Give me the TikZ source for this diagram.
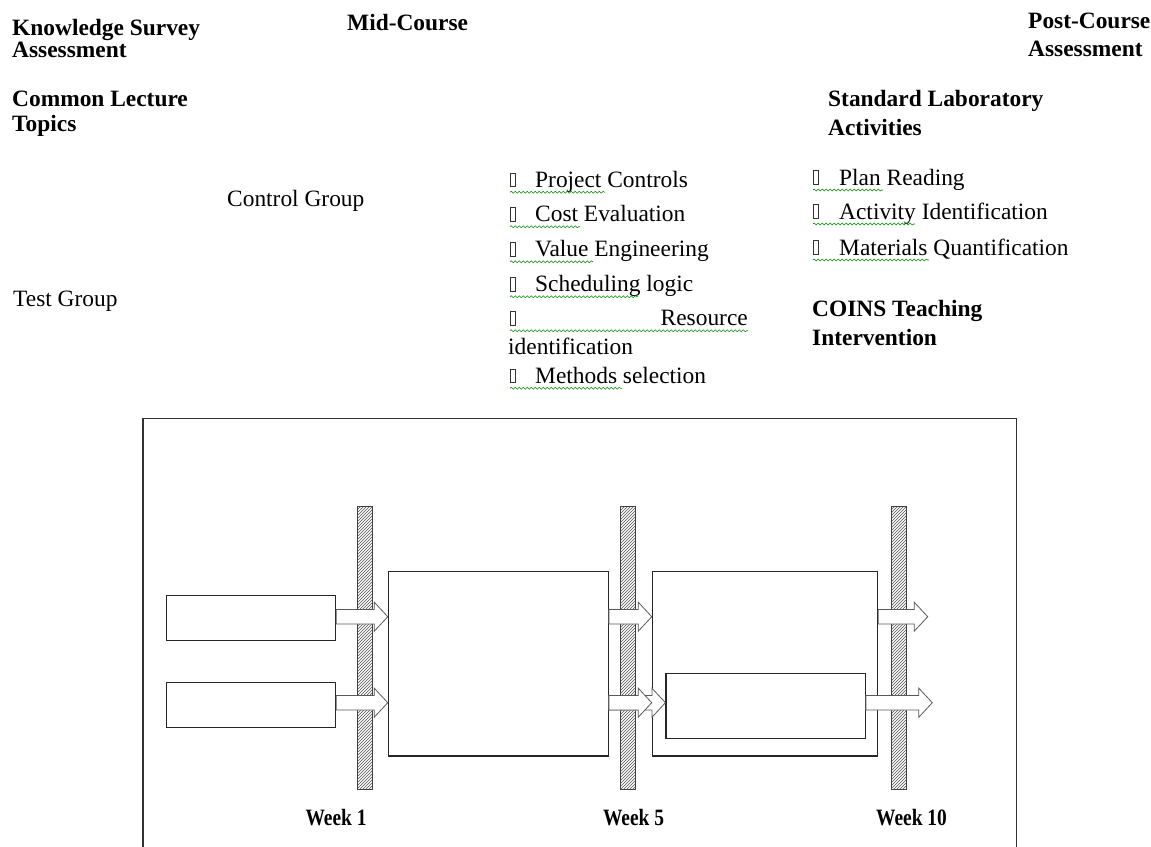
\documentclass[tikz,border=0pt]{standalone}
\usepackage{fontspec}
\usepackage{graphicx}
\setmainfont{Liberation Serif}
\usetikzlibrary{calc,patterns,decorations.pathmorphing}
\begin{document}
\begin{tikzpicture}[x=1pt,y=-1pt,
  txt/.style={anchor=base west, inner sep=0pt, font=\fontsize{23.4}{28}\selectfont},
  hd/.style={anchor=base west, inner sep=0pt, font=\fontsize{23.4}{28}\selectfont\bfseries},
  wk/.style={anchor=base, inner sep=0pt, font=\fontsize{23.4}{28}\selectfont\bfseries},
  tofu/.style={draw=black!80, line width=0.6pt, inner sep=0pt, minimum width=4.5pt, minimum height=13.5pt, anchor=south west},
  squig/.style={draw=green!55!black, line width=0.6pt, decorate, decoration={snake, segment length=4pt, amplitude=1pt}},
  box/.style={draw=black!85, line width=1.1pt, fill=white, inner sep=0pt},
  weekbar/.style={draw=black!75, line width=1pt, minimum width=15pt, minimum height=283pt, inner sep=0pt, pattern=north east lines, pattern color=black!70},
  blockarrow/.style={draw=black!65, line width=0.8pt, fill=white, to path={let \p1=(\tikztostart), \p2=(\tikztotarget) in (\x1,\y1+7.3pt) -- (\x2-13.5pt,\y1+7.3pt) -- (\x2-13.5pt,\y1+14.5pt) -- (\x2,\y1) -- (\x2-13.5pt,\y1-14.5pt) -- (\x2-13.5pt,\y1-7.3pt) -- (\x1,\y1-7.3pt) -- cycle}}
]
\useasboundingbox (0,0) rectangle (1151,846);

% ---------- headings ----------
\node[hd, text depth=1pt] (ks1) at (12,35.5) {Knowledge Survey};
\node[hd, text height=15.5pt] (ks2) at (12,57) {Assessment};
\node[hd] (mid) at (347,30) {Mid-Course};
\node[hd] (pc1) at (1028,28) {Post-Course};
\node[hd] (pc2) at (1028,56.7) {Assessment};
\node[hd] (cl1) at (12,106) {Common Lecture};
\node[hd] (cl2) at (12,131) {Topics};
\node[hd] (sl1) at (828,106) {Standard Laboratory};
\node[hd] (sl2) at (828,135) {Activities};
\node[hd] (ct1) at (812,316) {COINS Teaching};
\node[hd] (ct2) at (812,345) {Intervention};
\node[txt] (cg) at (227,206) {Control Group};
\node[txt] (tg) at (13,306) {Test Group};

% ---------- middle bullet list ----------
\node[tofu] (m1b) at (510,186.8) {};
\node[txt] (m1) at (535,187.3) {Project Controls};
\draw[squig] (510,192.3) -- (605,192.3);
\node[tofu] (m2b) at (510,221.2) {};
\node[txt] (m2) at (535,221.7) {Cost Evaluation};
\draw[squig] (510,226.7) -- (580,226.7);
\node[tofu] (m3b) at (510,256.2) {};
\node[txt] (m3) at (535,256.7) {Value Engineering};
\draw[squig] (510,261.7) -- (593,261.7);
\node[tofu] (m4b) at (510,291.2) {};
\node[txt] (m4) at (535,291.7) {Scheduling logic};
\draw[squig] (510,296.7) -- (638,296.7);
\node[tofu] (m5b) at (510,325.2) {};
\node[txt, anchor=base east] (m5) at (748,325.7) {Resource};
\draw[squig] (510,330.7) -- (748,330.7);
\node[txt] (m5c) at (508,354) {identification};
\node[tofu] (m6b) at (510,382.8) {};
\node[txt] (m6) at (535,383.3) {Methods selection};
\draw[squig] (510,388.3) -- (622,388.3);

% ---------- right bullet list ----------
\node[tofu] (r1b) at (813,184.5) {};
\node[txt] (r1) at (839,185) {Plan Reading};
\draw[squig] (813,190) -- (883,190);
\node[tofu] (r2b) at (813,218.5) {};
\node[txt] (r2) at (839,219) {Activity Identification};
\draw[squig] (813,224) -- (915,224);
\node[tofu] (r3b) at (813,254.5) {};
\node[txt] (r3) at (839,255) {Materials Quantification};
\draw[squig] (813,260) -- (929,260);

% ---------- frame (open at the bottom) ----------
\begin{scope}
\clip (0,0) rectangle (1151,846);
\coordinate (fbl) at (143,860);
\coordinate (ftl) at (143,418.3);
\coordinate (ftr) at (1016.3,418.3);
\coordinate (fbr) at (1016.3,860);
\draw[black!80, line width=1.1pt] (fbl) -- (ftl) -- (ftr) -- (fbr);
\end{scope}

% ---------- boxes ----------
\node[box, minimum width=169pt, minimum height=44.6pt] (a) at (251.2,618) {};
\node[box, minimum width=169pt, minimum height=45pt] (b) at (251.2,705.2) {};
\node[box, minimum width=220pt, minimum height=184.3pt] (big1) at (498.3,663.85) {};
\node[box, minimum width=225.4pt, minimum height=184.3pt] (big2) at (765,663.85) {};
\node[box, minimum width=199.3pt, minimum height=65.4pt] (inner) at (765.65,706) {};

% ---------- week bars ----------
\node[weekbar] (w1) at (365,648.35) {};
\node[weekbar] (w5) at (627.5,648.35) {};
\node[weekbar] (w10) at (898.8,648.35) {};

% ---------- block arrows ----------
\coordinate (rowA) at (0,616.7);
\coordinate (rowB) at (0,702.7);
\coordinate (endA) at (927.7,616.7);
\coordinate (endB) at (932.3,702.7);
\draw[blockarrow] (a.east |- rowA) to (big1.west |- rowA);
\draw[blockarrow] (b.east |- rowB) to (big1.west |- rowB);
\draw[blockarrow] (big1.east |- rowA) to (big2.west |- rowA);
\draw[blockarrow] (big1.east |- rowB) to (inner.west |- rowB);
\draw[blockarrow] (big1.east |- rowB) to (big2.west |- rowB);
\draw[blockarrow] (big2.east |- rowA) to (endA);
\draw[blockarrow] (inner.east |- rowB) to (endB);

% ---------- week labels ----------
\node[wk] (wl1) at (336,825.7) {\scalebox{0.83}[1]{Week 1}};
\node[wk] (wl5) at (633.5,825.7) {\scalebox{0.83}[1]{Week 5}};
\node[wk] (wl10) at (911.5,825.7) {\scalebox{0.83}[1]{Week 10}};
\end{tikzpicture}
\end{document}
